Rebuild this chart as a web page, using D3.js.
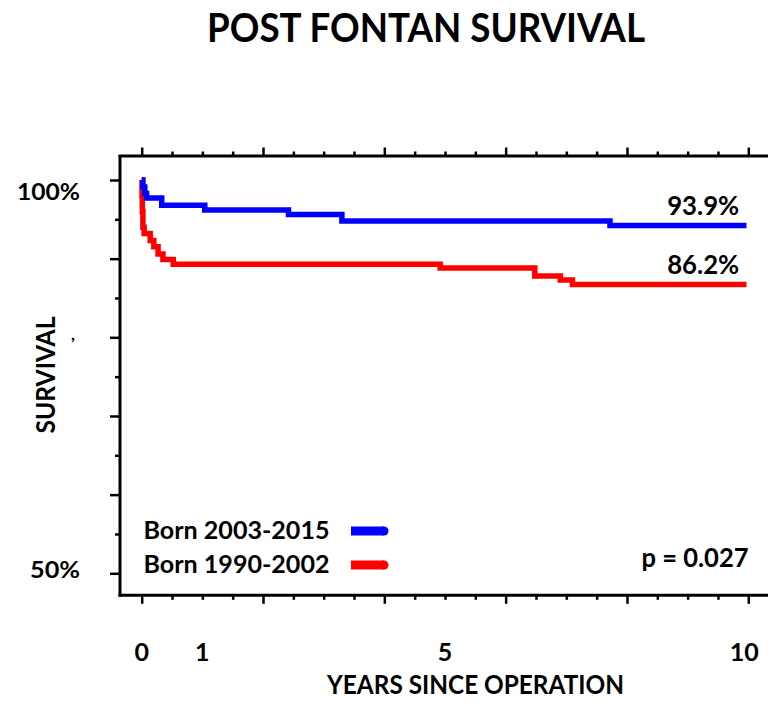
<!DOCTYPE html>
<html>
<head>
<meta charset="utf-8">
<script src="https://cdn.jsdelivr.net/npm/d3@7"></script>
<style>
  body { margin: 0; background: #fff; }
  text { font-family: Lato, "Open Sans", sans-serif; font-weight: bold; fill: #000; }
</style>
</head>
<body>
<script>
// Kaplan-Meier steps (years, survival %)
var blueTimes = [0, 0.02, 0.05, 0.08, 0.33, 1.04, 2.42, 3.30, 7.72];
var blueSurv  = [100, 99.1, 98.3, 97.7, 96.8, 96.2, 95.6, 94.8, 94.2];
var redTimes  = [0, 0.005, 0.01, 0.02, 0.04, 0.14, 0.20, 0.27, 0.35, 0.52, 4.92, 6.48, 6.90, 7.10];
var redSurv   = [100, 98.0, 96.0, 94.0, 93.2, 92.3, 91.5, 90.6, 89.9, 89.3, 88.8, 87.8, 87.3, 86.7];
var followUpEnd = 9.97;

var seriesNames  = ["Born 2003-2015", "Born 1990-2002"];
var seriesColors = ["#0000ff", "#ff0000"];
var endLabels    = ["93.9%", "86.2%"];

var xTickValues = d3.range(0, 10.01, 0.5);
var xMajor      = [0, 2, 4, 6, 8, 10];
var xLabels     = [0, 1, 5, 10];
var yTickValues = d3.range(50, 100.01, 5);
var yLabels     = [100, 50];
var pText = "p = 0.027";

var width = 768, height = 701;
var svg = d3.select("body").append("svg").attr("width", width).attr("height", height);

var x = d3.scaleLinear().domain([0, 10]).range([141.7, 748.3]);
var y = d3.scaleLinear().domain([50, 100]).range([573.3, 180]);

// title
svg.append("text")
    .attr("x", 426).attr("y", 41.5)
    .attr("text-anchor", "middle")
    .attr("font-size", 41)
    .attr("textLength", 438).attr("lengthAdjust", "spacingAndGlyphs")
    .text("POST FONTAN SURVIVAL");

// frame lines
var frame = svg.append("g").attr("stroke", "#000").attr("stroke-width", 3);
frame.append("line").attr("x1", 120).attr("x2", 120).attr("y1", 155.5).attr("y2", 596.8);
frame.append("line").attr("x1", 118.5).attr("x2", 768).attr("y1", 156).attr("y2", 156);
frame.append("line").attr("x1", 118.5).attr("x2", 768).attr("y1", 595.3).attr("y2", 595.3);

// x ticks on top and bottom
function isMajor(v) { return xMajor.indexOf(v) >= 0; }

var topAxis = svg.append("g")
    .attr("transform", "translate(0,156)")
    .call(d3.axisTop(x).tickValues(xTickValues).tickFormat("").tickSizeOuter(0));
var bottomAxis = svg.append("g")
    .attr("transform", "translate(0,595.3)")
    .call(d3.axisBottom(x).tickValues(xTickValues).tickFormat("").tickSizeOuter(0));
[topAxis, bottomAxis].forEach(function (g, k) {
    g.select(".domain").remove();
    g.selectAll(".tick line")
        .attr("stroke", "#000")
        .attr("stroke-width", 2.5)
        .attr("y2", function (d) { return (k === 0 ? -1 : 1) * (isMajor(d) ? 8.5 : 4.5); });
});

// y ticks on the left
var leftAxis = svg.append("g")
    .attr("transform", "translate(120,0)")
    .call(d3.axisLeft(y).tickValues(yTickValues).tickFormat("").tickSizeOuter(0));
leftAxis.select(".domain").remove();
leftAxis.selectAll(".tick line")
    .attr("stroke", "#000")
    .attr("stroke-width", 2.5)
    .attr("x2", function (d) { return d % 10 === 0 ? -10 : -5; });

// axis labels
svg.selectAll("text.ylab")
    .data(yLabels)
    .enter().append("text")
    .attr("class", "ylab")
    .attr("x", 80)
    .attr("y", function (d) { return y(d) + (d === 100 ? 20 : 5); })
    .attr("text-anchor", "end")
    .attr("font-size", 23)
    .attr("textLength", function (d) { return d === 100 ? 63 : 50; })
    .attr("lengthAdjust", "spacingAndGlyphs")
    .text(function (d) { return d + "%"; });

svg.selectAll("text.xlab")
    .data(xLabels)
    .enter().append("text")
    .attr("class", "xlab")
    .attr("x", function (d) { return x(d) - (d === 10 ? 4 : 0); })
    .attr("y", 661)
    .attr("text-anchor", "middle")
    .attr("font-size", 25)
    .text(function (d) { return d; });

svg.append("text")
    .attr("x", 475.5).attr("y", 694)
    .attr("text-anchor", "middle")
    .attr("font-size", 26)
    .attr("textLength", 297).attr("lengthAdjust", "spacingAndGlyphs")
    .text("YEARS SINCE OPERATION");

svg.append("text")
    .attr("transform", "translate(55,375) rotate(-90)")
    .attr("text-anchor", "middle")
    .attr("font-size", 27)
    .attr("textLength", 117).attr("lengthAdjust", "spacingAndGlyphs")
    .text("SURVIVAL");

// stray comma from the original slide
svg.append("text")
    .attr("x", 71).attr("y", 340)
    .attr("font-size", 17)
    .attr("font-weight", "normal")
    .text(",");

// survival curves
var series = [
    { times: blueTimes, surv: blueSurv },
    { times: redTimes, surv: redSurv }
].map(function (s, i) {
    var pts = s.times.map(function (t, j) { return { t: t, s: s.surv[j] }; });
    pts.push({ t: followUpEnd, s: s.surv[s.surv.length - 1] });
    return { name: seriesNames[i], color: seriesColors[i], label: endLabels[i], points: pts };
});

var line = d3.line()
    .x(function (d) { return x(d.t); })
    .y(function (d) { return y(d.s); })
    .curve(d3.curveStepAfter);

// draw red first so blue sits on top at time zero
series.slice().reverse().forEach(function (s) {
    svg.append("path")
        .attr("d", line(s.points))
        .attr("fill", "none")
        .attr("stroke", s.color)
        .attr("stroke-width", 5.5)
        .attr("stroke-linejoin", "miter")
        .attr("stroke-linecap", "butt");
});

// final survival labels
svg.selectAll("text.endlab")
    .data(series)
    .enter().append("text")
    .attr("class", "endlab")
    .attr("x", x(9.85))
    .attr("y", function (d) { return y(d.points[d.points.length - 1].s) - 11; })
    .attr("text-anchor", "end")
    .attr("font-size", 27)
    .attr("textLength", 72).attr("lengthAdjust", "spacingAndGlyphs")
    .text(function (d) { return d.label; });

// legend
var legend = svg.selectAll("g.legend")
    .data(series)
    .enter().append("g")
    .attr("class", "legend")
    .attr("transform", function (d, i) { return "translate(0," + (531 + i * 34) + ")"; });

legend.append("text")
    .attr("x", 143.5)
    .attr("y", 7.5)
    .attr("font-size", 25)
    .attr("textLength", 186).attr("lengthAdjust", "spacingAndGlyphs")
    .text(function (d) { return d.name; });

legend.append("rect")
    .attr("x", 351).attr("y", -4.5)
    .attr("width", 33).attr("height", 9)
    .attr("fill", function (d) { return d.color; });
legend.append("circle")
    .attr("cx", 384).attr("cy", 0).attr("r", 4.5)
    .attr("fill", function (d) { return d.color; });

// p value
svg.append("text")
    .attr("x", 748.5).attr("y", 566.5)
    .attr("text-anchor", "end")
    .attr("font-size", 26)
    .attr("textLength", 107).attr("lengthAdjust", "spacingAndGlyphs")
    .text(pText);
</script>
</body>
</html>
